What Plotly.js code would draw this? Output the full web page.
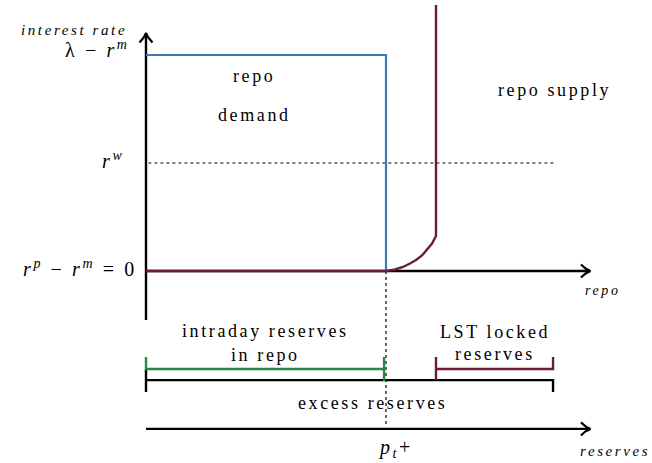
<!DOCTYPE html>
<html>
<head>
<meta charset="utf-8">
<script src="https://cdn.plot.ly/plotly-3.0.1.min.js"></script>
<style>
html,body{margin:0;padding:0;background:#fff;}
.annotation-text{letter-spacing:2.6px;}
</style>
</head>
<body>
<div id="chart" style="width:652px;height:463px;"></div>
<script>
// Schematic values (x: repo/reserves quantity, y: interest rate; demand cut-off at x=1, lambda-r^m at y=1)
const rateAxisX = [0, 0];
const rateAxisY = [-0.227, 1.1];
const repoAxisX = [0, 1.85];
const repoAxisY = [0, 0];

const demandX = [0, 1.0, 1.0];
const demandY = [1.0, 1.0, 0];

const supplyX = [0, 1.0, 1.0375, 1.0708, 1.1, 1.125, 1.15, 1.1708, 1.1917, 1.2083, 1.2083];
const supplyY = [0, 0, 0.0069, 0.0185, 0.0347, 0.0509, 0.0718, 0.0972, 0.1273, 0.162, 1.231];

const rwX = [0.01, 1.704];
const rwY = [0.5, 0.5];
const ptX = [1.0, 1.0];
const ptY = [0, -0.72];

const intradayX = [0, 0, 0.992, 0.992, 0.992];
const intradayY = [-0.398, -0.454, -0.454, -0.398, -0.509];
const excessX = [0, 0, 0, 1.696, 1.696];
const excessY = [-0.454, -0.56, -0.505, -0.505, -0.56];
const lockedX = [1.2083, 1.2083, 1.2083, 1.696, 1.696];
const lockedY = [-0.398, -0.505, -0.454, -0.454, -0.398];

const reservesAxisX = [0, 1.85];
const reservesAxisY = [-0.731, -0.731];

const labelText = ['<i>interest rate</i>', 'λ − <i>r</i><sup><i>m</i></sup>', '<i>r</i><sup><i>w</i></sup>',
  '<i>r</i><sup><i>p</i></sup> − <i>r</i><sup><i>m</i></sup> = 0', 'repo', 'demand', 'repo supply', '<i>repo</i>',
  'intraday reserves', 'in repo', 'LST locked', 'reserves', 'excess reserves', '<i>p</i><sub><i>t</i></sub>+', '<i>reserves</i>'];
const labelX = [-0.302, -0.058, -0.083, -0.03, 0.45, 0.45, 1.7, 1.904, 0.496, 0.496, 1.454, 1.454, 0.942, 1.04, 1.954];
const labelY = [1.114, 1.03, 0.515, 0.015, 0.903, 0.722, 0.838, -0.09, -0.278, -0.389, -0.282, -0.384, -0.611, -0.822, -0.833];
const labelAnchor = ['center', 'right', 'right', 'right', 'center', 'center', 'center', 'center', 'center', 'center', 'center', 'center', 'center', 'center', 'center'];
const labelSize = [15, 20, 20, 20, 18, 18, 18, 14, 18, 18, 18, 18, 18, 20, 15];

// arrow tips and their pointing direction (screen-space unit vector)
const arrowTipX = [0, 1.85, 1.85];
const arrowTipY = [1.1, 0, -0.731];
const arrowDirX = [0, 1, 1];
const arrowDirY = [1, 0, 0];

const BLACK = '#000000', BLUE = '#3b7bbb', PURPLE = '#6c1a42', GREEN = '#258a47';
const FONT = 'Liberation Serif, DejaVu Serif, serif';
const PX_X = 240, PX_Y = 216; // pixels per data unit (style only)

function line(x, y, color, width, dash) {
  return {x: x, y: y, type: 'scatter', mode: 'lines', hoverinfo: 'skip', showlegend: false,
    line: {color: color, width: width, dash: dash || 'solid'}};
}

const traces = [
  line(rwX, rwY, BLACK, 1, 'dot'),
  line(ptX, ptY, BLACK, 1.2, 'dot'),
  line(rateAxisX, rateAxisY, BLACK, 2.4),
  line(repoAxisX, repoAxisY, BLACK, 2.4),
  line(reservesAxisX, reservesAxisY, BLACK, 2.4),
  line(excessX, excessY, BLACK, 2.4),
  line(intradayX, intradayY, GREEN, 2.4),
  line(lockedX, lockedY, PURPLE, 2.4),
  line(demandX, demandY, BLUE, 2.2),
  line(supplyX, supplyY, PURPLE, 2.4)
];

// chevron arrowheads (LaTeX-like), built around each tip
const back = 9, half = 6.5;
for (let i = 0; i < arrowTipX.length; i++) {
  const dx = arrowDirX[i], dy = arrowDirY[i];
  const px = -dy, py = dx;
  const hx = [], hy = [];
  const pts = [[-back, half], [-back * 0.45, half * 0.35], [0, 0], [-back * 0.45, -half * 0.35], [-back, -half]];
  pts.forEach(function (p) {
    const sx = dx * p[0] + px * p[1];
    const sy = dy * p[0] + py * p[1];
    hx.push(arrowTipX[i] + sx / PX_X);
    hy.push(arrowTipY[i] + sy / PX_Y);
  });
  const t = line(hx, hy, BLACK, 2.2);
  t.line.shape = 'spline';
  traces.push(t);
}

const annotations = [];
for (let i = 0; i < labelText.length; i++) {
  annotations.push({x: labelX[i], y: labelY[i], xref: 'x', yref: 'y', text: labelText[i], showarrow: false,
    xanchor: labelAnchor[i], yanchor: 'middle',
    font: {family: FONT, size: labelSize[i], color: '#000'}});
}

const layout = {
  width: 652, height: 463,
  margin: {l: 0, r: 0, t: 0, b: 0},
  paper_bgcolor: '#fff', plot_bgcolor: '#fff',
  xaxis: {range: [-146 / PX_X, 506 / PX_X], visible: false, fixedrange: true},
  yaxis: {range: [-192 / PX_Y, 271 / PX_Y], visible: false, fixedrange: true},
  annotations: annotations,
  showlegend: false
};

Plotly.newPlot('chart', traces, layout, {staticPlot: true, displayModeBar: false});
</script>
</body>
</html>
